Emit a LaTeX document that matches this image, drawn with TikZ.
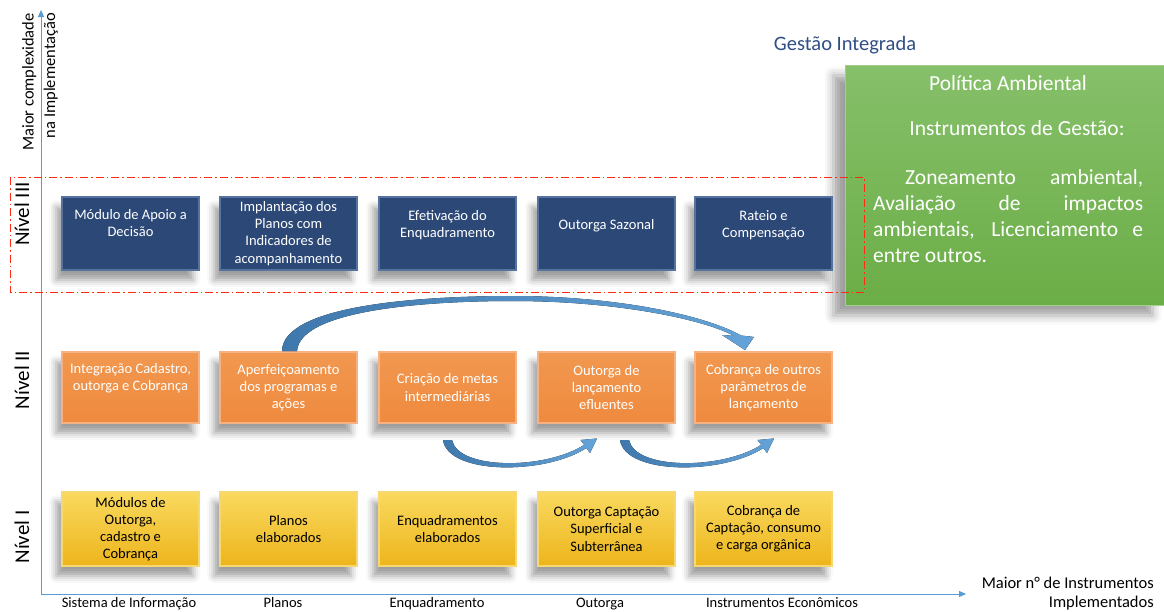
\documentclass[tikz,border=0pt]{standalone}
\usepackage{fontspec}
\setmainfont{Carlito}
\usetikzlibrary{arrows.meta,shadows.blur}
\definecolor{axisblue}{HTML}{5B9BD5}
\definecolor{navyfill}{HTML}{2C4877}
\definecolor{navyedge}{HTML}{56729F}
\definecolor{orangetop}{HTML}{F29850}
\definecolor{orangebot}{HTML}{EE8A3E}
\definecolor{orangeedge}{HTML}{F6B283}
\definecolor{yellowtop}{HTML}{F9D95E}
\definecolor{yellowbot}{HTML}{EDB51C}
\definecolor{yellowedge}{HTML}{F7D870}
\definecolor{greentop}{HTML}{86C06A}
\definecolor{greenbot}{HTML}{6BAD46}
\definecolor{greenedge}{HTML}{A3CF8C}
\definecolor{titleblue}{HTML}{2F4E86}
\definecolor{arrowdark}{HTML}{3F78AC}
\definecolor{arrowlight}{HTML}{64A3D9}
\definecolor{redline}{HTML}{FF2A10}
\begin{document}
\begin{tikzpicture}[x=1pt,y=-1pt,
  boxbase/.style={line width=1.3pt, minimum width=137pt, inner sep=0pt,
    align=center, font=\fontsize{14.5}{17.2}\selectfont,
    blur shadow={shadow xshift=-6pt, shadow yshift=-10pt, shadow blur radius=7pt, shadow opacity=38}},
  navybox/.style={boxbase, draw=navyedge, fill=navyfill, text=white, minimum height=73pt},
  orangebox/.style={boxbase, draw=orangeedge, top color=orangetop, bottom color=orangebot, text=white, minimum height=71pt},
  yellowbox/.style={boxbase, draw=yellowedge, top color=yellowtop, bottom color=yellowbot, text=black, minimum height=74pt},
  levellabel/.style={rotate=90, font=\fontsize{21}{25}\selectfont},
  catlabel/.style={anchor=base, font=\fontsize{14.5}{17}\selectfont},
  bigarrow/.style={left color=arrowdark, right color=arrowlight, draw=none},
]
\useasboundingbox (0,0) rectangle (1164,611);

% axes
\coordinate (orig) at (41,595);
\coordinate (ytip) at (41,10);
\coordinate (xtip) at (966,594);
\draw[axisblue, line width=1pt, -{Triangle[length=7pt,width=6pt]}] (41,595) -- (ytip);
\draw[axisblue, line width=1pt, -{Triangle[length=7pt,width=6pt]}] (41,594) -- (xtip);

\node[rotate=90, anchor=east, inner sep=0pt, align=right,
  font=\fontsize{16.5}{21.5}\selectfont] (ylab) at (40,13)
  {Maior complexidade\\na Implementação};
\node[anchor=base east, inner sep=0pt, align=right,
  font=\fontsize{16.5}{21}\selectfont] (xlab1) at (1154,588) {Maior n° de Instrumentos};
\node[anchor=base east, inner sep=0pt,
  font=\fontsize{16.5}{21}\selectfont] (xlab2) at (1154,607) {Implementados};

% level labels
\node[levellabel] (lv3) at (22,214) {Nível III};
\node[levellabel] (lv2) at (22,380) {Nível II};
\node[levellabel] (lv1) at (22,537) {Nível I};

% title
\node[text=titleblue, font=\fontsize{20.5}{24}\selectfont] (title) at (845,45) {Gestão Integrada};

% green box
\node[draw=greenedge, line width=1pt, top color=greentop, bottom color=greenbot,
  minimum width=319pt, minimum height=240pt, anchor=north west, inner sep=0pt,
  blur shadow={shadow xshift=-12pt, shadow yshift=-10pt, shadow blur radius=9pt, shadow opacity=38}]
  (green) at (845,65) {};
\node[text=white, font=\fontsize{21.5}{26}\selectfont] (pol) at (1008,83) {Política Ambiental};
\node[text=white, font=\fontsize{21.5}{26}\selectfont] (inst) at (1017,128) {Instrumentos de Gestão:};
\node[text=white, font=\fontsize{21.5}{26}\selectfont, anchor=north west, inner sep=0pt, align=left]
  (para) at (873,169)
  {\makebox[270pt][r]{\makebox[238pt][s]{Zoneamento ambiental,}}\\
   \makebox[270pt][s]{Avaliação de impactos}\\
   \makebox[270pt][s]{ambientais, Licenciamento e}\\
   entre outros.};

% Level III
\node[navybox] (a1) at (130.5,233.5) {Módulo de Apoio a\\Decisão\\[4pt]};
\node[navybox] (a2) at (288.5,233.5) {Implantação dos\\Planos com\\Indicadores de\\acompanhamento};
\node[navybox] (a3) at (447.5,233.5) {Efetivação do\\Enquadramento\\[2pt]};
\node[navybox] (a4) at (606.5,233.5) {Outorga Sazonal\\[1pt]};
\node[navybox] (a5) at (763.5,233.5) {Rateio e\\Compensação\\[1pt]};

% Level II
\node[orangebox] (b1) at (130.5,387.5) {Integração Cadastro,\\outorga e Cobrança\\[4pt]};
\node[orangebox] (b2) at (288.5,387.5) {Aperfeiçoamento\\dos programas e\\ações};
\node[orangebox] (b3) at (447.5,387.5) {Criação de metas\\intermediárias};
\node[orangebox] (b4) at (606.5,387.5) {Outorga de\\lançamento\\efluentes};
\node[orangebox] (b5) at (763.5,387.5) {Cobrança de outros\\parâmetros de\\lançamento};

% Level I
\node[yellowbox] (c1) at (130.5,529) {Módulos de\\Outorga,\\cadastro e\\Cobrança};
\node[yellowbox] (c2) at (288.5,529) {Planos\\elaborados};
\node[yellowbox] (c3) at (447.5,529) {Enquadramentos\\elaborados};
\node[yellowbox] (c4) at (606.5,529) {Outorga Captação\\Superficial e\\Subterrânea};
\node[yellowbox] (c5) at (763.5,529) {Cobrança de\\Captação, consumo\\e carga orgânica};

% category labels
\node[catlabel] (k1) at (129,607.5) {Sistema de Informação};
\node[catlabel] (k2) at (283,607.5) {Planos};
\node[catlabel] (k3) at (437,607.5) {Enquadramento};
\node[catlabel] (k4) at (600,607.5) {Outorga};
\node[catlabel] (k5) at (782,607.5) {Instrumentos Econômicos};

% big curved arrow from b2 to b5
\fill[bigarrow]
  (282,351) .. controls (283,305) and (420,296) .. (513,296)
  .. controls (615,296) and (705,315) .. (741,335.5)
  -- (754,337) -- (745,350) -- (722,335) -- (734,335.8)
  .. controls (700,318) and (612,301) .. (513,301)
  .. controls (425,301) and (300,310) .. (297,351) -- cycle;

% small arrows b3 -> b4 and b4 -> b5
\foreach \dx in {0,177}{
\begin{scope}[xshift=\dx pt]
\fill[bigarrow]
  (443,440) .. controls (448,475) and (545,475) .. (586.4,448.0)
  -- (590,453) -- (597,438.5) -- (580.5,440) -- (584.2,444.8)
  .. controls (545,470) and (458,470) .. (452,440) -- cycle;
\end{scope}
}

% red dash-dot frame around Level III
\draw[redline, line width=1pt, dash pattern=on 8pt off 3pt on 1.5pt off 3pt]
  (10,177) rectangle (864,292);
\end{tikzpicture}
\end{document}
